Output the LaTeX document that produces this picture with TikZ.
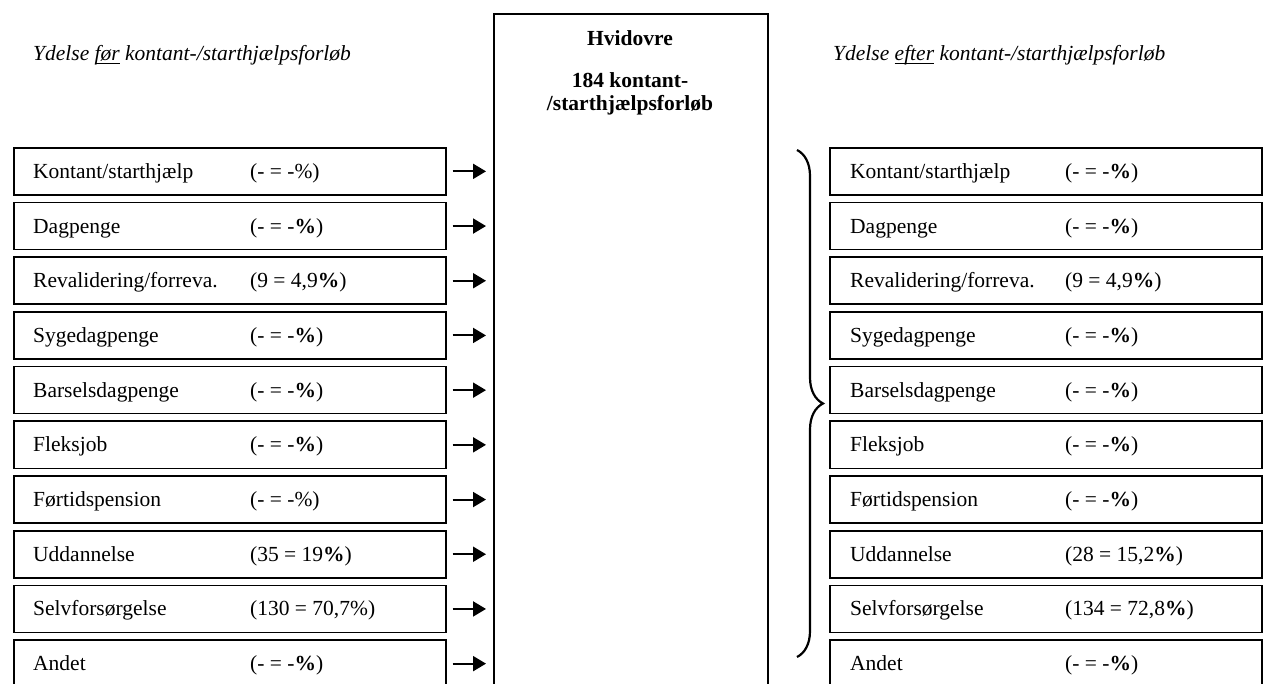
\documentclass[tikz,border=0pt]{standalone}
\usepackage{fontspec}
\setmainfont{Liberation Serif}
\usetikzlibrary{arrows.meta,decorations.pathreplacing}
\tikzset{
  rowbox/.style={draw, line width=1.7pt, minimum width=432pt, minimum height=47pt, inner sep=0pt, anchor=north west},
  rowtxt/.style={anchor=base west, inner sep=0pt},
  arr/.style={line width=1.9pt, -{Triangle[length=13pt,width=15pt]}},
}
\newcommand{\pb}{\textbf{\%}}
\newcommand{\myul}[1]{\setbox0\hbox{#1}\rlap{\rule[-2.6pt]{\wd0}{1pt}}#1}
\begin{document}
\begin{tikzpicture}[x=1pt,y=-1pt,font=\fontsize{21.5}{25}\selectfont]
\useasboundingbox (0,0) rectangle (1264,684);
\clip (0,0) rectangle (1264,684);
% headers
\node[anchor=base west, inner sep=0pt] (hl) at (33,61) {\itshape Ydelse \myul{før} kontant-/starthjælpsforløb};
\node[anchor=base west, inner sep=0pt] (hr) at (833,61) {\itshape Ydelse \myul{efter} kontant-/starthjælpsforløb};
% centre box
\node[draw, line width=1.9pt, minimum width=274pt, minimum height=700pt, inner sep=0pt, anchor=north west] (C) at (493,13) {};
\node[anchor=north, align=center, inner sep=0pt, font=\fontsize{21.5}{22.5}\selectfont\bfseries] (ct) at (630,30) {Hvidovre\\[20pt]184 kontant-\\/starthjælpsforløb};
% rows
\foreach \i/\a/\b/\c in {
 1/{Kontant\slash starthjælp}/{(- = -\%)}/{(- = -\pb)},
 2/{Dagpenge}/{(- = -\pb)}/{(- = -\pb)},
 3/{Revalidering\slash forreva.}/{(9 = 4,9\pb)}/{(9 = 4,9\pb)},
 4/{Sygedagpenge}/{(- = -\pb)}/{(- = -\pb)},
 5/{Barselsdagpenge}/{(- = -\pb)}/{(- = -\pb)},
 6/{Fleksjob}/{(- = -\pb)}/{(- = -\pb)},
 7/{Førtidspension}/{(- = -\%)}/{(- = -\pb)},
 8/{Uddannelse}/{(35 = 19\pb)}/{(28 = 15,2\pb)},
 9/{Selvforsørgelse}/{(130 = 70,7\%)}/{(134 = 72,8\pb)},
 10/{Andet}/{(- = -\pb)}/{(- = -\pb)}} {
  \pgfmathsetmacro{\yy}{147+54.7*(\i-1)}
  \node[rowbox] (L\i) at (13,\yy) {};
  \node[rowbox] (R\i) at (829,\yy) {};
  \node[rowtxt] (La\i) at ([xshift=20pt,yshift=-7pt]L\i.west) {\a};
  \node[rowtxt] (Lb\i) at ([xshift=237pt,yshift=-7pt]L\i.west) {\b};
  \node[rowtxt] (Ra\i) at ([xshift=21pt,yshift=-7pt]R\i.west) {\a};
  \node[rowtxt] (Rb\i) at ([xshift=236pt,yshift=-7pt]R\i.west) {\c};
  \draw[arr] ([xshift=6pt]L\i.east) -- ([xshift=-7pt]L\i.east -| C.west);
}
% brace
\coordinate (bt) at (797,150);
\coordinate (bb) at (797,657);
\draw[line width=2.2pt, decorate, decoration={brace, amplitude=26pt}] (bt) -- (bb);
\end{tikzpicture}
\end{document}
